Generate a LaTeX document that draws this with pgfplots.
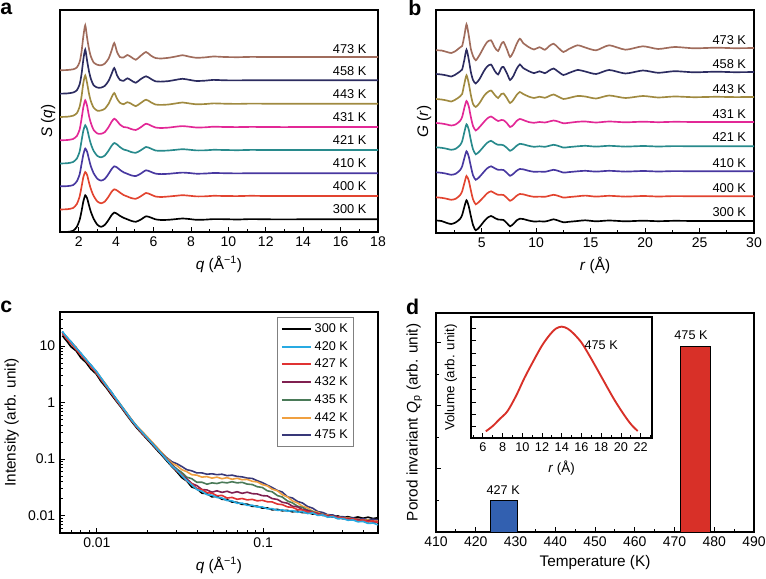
\documentclass[border=0pt]{standalone}
\usepackage{fontspec}
\setmainfont{Liberation Sans}
\usepackage{pgfplots}
\usepackage{pgfplotstable}
\pgfplotsset{compat=1.18}

\definecolor{cA300}{RGB}{0,0,0}
\definecolor{cA400}{RGB}{226,68,48}
\definecolor{cA410}{RGB}{72,56,160}
\definecolor{cA421}{RGB}{40,138,140}
\definecolor{cA431}{RGB}{226,40,150}
\definecolor{cA443}{RGB}{160,138,64}
\definecolor{cA458}{RGB}{44,44,96}
\definecolor{cA473}{RGB}{160,108,92}
\definecolor{cC420}{RGB}{40,170,226}
\definecolor{cC427}{RGB}{224,50,50}
\definecolor{cC432}{RGB}{128,32,80}
\definecolor{cC435}{RGB}{74,122,88}
\definecolor{cC442}{RGB}{240,160,64}
\definecolor{cC475}{RGB}{56,56,120}
\definecolor{barBlue}{RGB}{50,96,176}
\definecolor{barRed}{RGB}{216,48,40}

\pgfplotstableread{
q t300 t400 t410 t421 t431 t443 t458 t473
1.0 -12.7 -13.5 -13 -13.5 -13.3 -13.3 -13.4 -13.3
1.4 -12.6 -13.2 -12.8 -13.2 -13.0 -13.0 -13.1 -13.0
1.7 -11.5 -12.0 -11.8 -12.0 -12.0 -12.0 -12.2 -12.3
1.9 -7.5 -8.0 -8.0 -8.5 -9.0 -9.5 -10 -10.5
2.05 -0.5 -0.5 -1.0 -1.5 -2.5 -3 -4 -5
2.15 8 9 9 9 8 7 6 5
2.25 18 19 19 19.5 20 21 21 21
2.35 24 24 24.7 24.7 26.7 28.3 30.7 31.7
2.45 21 21 21.5 21 21 20.5 19.5 19
2.55 14 13.5 14 13 11 10 9 8
2.65 7.5 7 7 6 4 2.5 1.5 0.5
2.8 0.5 0 0 -1 -3 -4 -5 -5.5
3.0 -5.5 -5.5 -5.5 -6 -6.5 -7 -7.3 -7.8
3.2 -7.5 -7.3 -7.3 -7.3 -6.8 -6.7 -7.3 -8.3
3.4 -5.5 -5.5 -5.5 -5.5 -5 -5 -5.5 -6.5
3.6 -0.5 -0.5 -0.5 -0.5 0 0 -0.5 -1.5
3.75 4 4 4 4 5 6 6 6
3.9 6.7 6.7 7 7 8.3 10.7 12.3 14
4.05 5.5 5.5 5.8 5.5 6 5 5 5
4.2 3.5 3.5 3.5 3 2.5 1 0.5 0
4.4 1.5 1.0 1.0 0.5 0 -0.5 -0.5 -0.5
4.6 0 -0.5 -0.5 -0.5 -0.5 1.5 2 2
4.8 -1.5 -2 -2 -2 -2 0 0 0
5.05 -2.5 -2.8 -2.8 -2.8 -3 -2.5 -2.5 -2.8
5.3 -0.5 -0.5 -0.5 -0.5 -0.5 0.5 1 1
5.6 3 3 3 3 3.3 4 4 5
5.85 1.8 1.5 1.5 1.5 1.5 1.5 1.5 1.5
6.1 0 -0.5 -0.3 -0.5 -0.5 -0.8 -1 -1
6.4 -0.7 -1 -0.8 -0.8 -1 -1.2 -1.3 -1.5
6.8 -0.5 -0.5 -0.5 -0.5 -0.6 -0.8 -0.8 -0.8
7.2 0.2 0.2 0.2 0.2 0.3 0.3 0.5 0.5
7.55 0.8 0.8 0.7 0.8 0.9 1.2 1.5 1.8
7.9 0.3 0.3 0.3 0.3 0.3 0.3 0.5 0.4
8.3 -0.5 -0.4 -0.4 -0.4 -0.5 -0.6 -0.7 -0.8
8.8 -0.3 -0.3 -0.2 -0.3 -0.3 -0.3 -0.3 -0.3
9.2 0.2 0.2 0.3 0.2 0.3 0.3 0.4 0.5
9.8 0.1 0 0.1 0 0 0 0 0
10.5 -0.2 -0.1 -0.1 -0.2 -0.1 -0.2 -0.1 -0.2
11.2 0.2 0.2 0.1 0.1 0.1 0.1 0.1 0.1
12 0 0 0 0 0 0 0 0
13 -0.1 0 0 0 -0.1 0 0 0
14 0 0 0 0 0 0 0 0
15 0 0 0 0 0 0 0 0
16 0 0 0 0 0 0 0 0
17 0 0 0 0 0 0 0 0
18 0 0 0 0 0 0 0 0
}\tabA

\pgfplotstableread{
r t300 t400 t410 t421 t431 t443 t458 t473
0.8 0.5 -1 -1 -1 -1 -2 -2 -2.3
1.3 0 -1.5 -1.5 -1.5 -1.5 -2.5 -2.5 -2.5
1.8 -2 -2.5 -2.5 -2.5 -2.5 -3.5 -3.5 -4
2.2 -3 -3.5 -3.5 -3.5 -3.5 -4.5 -4.5 -5
2.6 -1.5 -2.5 -2.5 -2.5 -2.5 -2.5 -2.5 -3
3.0 2 1 1 1 1 0.5 0.5 0.5
3.2 6 5 5 5 5 3 2.5 2
3.4 14 13 13 14 14 13 12 12
3.6 20.7 20.3 20 22 21 21.7 22.3 23.7
3.8 15 16 15 17 16 14 13 13
4.0 5 6 5 6 5 2 0 -1
4.2 -4 -3 -4 -3 -4 -7 -8 -8
4.45 -9.3 -8 -8.5 -8 -8.5 -10 -11.5 -12.3
4.8 -6 -5 -5.5 -5 -5 -6 -7 -7
5.2 -0.5 -0.5 -0.5 0 0 1 1 1
5.5 3 3 3 3.5 3.5 4.5 5.5 6
5.85 5 5 5 5.5 5.5 6.5 7.5 7.7
6.2 3 3 3 3 3 2 1 0.5
6.5 1.5 1.5 1.5 1.5 1 -1 -2.5 -3
6.8 1.3 1.5 1.5 1.5 2 3 4 4
7.0 1 1.3 1.3 1 1.8 3.5 5 6
7.3 -2 -1.5 -1.5 -1.5 -1 -1 -1 -1
7.6 -5.3 -4.5 -4.5 -4.5 -5 -6 -8 -9
7.9 -3 -2.5 -2.5 -2.5 -3 -3 -4 -4
8.2 0.5 0.5 0.5 0.5 1 2 3 4
8.5 2.3 2.3 2.3 2.5 3 5 7.5 9.3
8.8 2 2 2 2 2 3 4 5
9.3 0.5 0.5 0.5 0.5 0 0.5 1 1
9.8 -0.5 -0.5 -0.5 -0.5 -0.8 -1 -1.2 -1.5
10.3 -0.3 -0.3 -0.3 0 0 0.3 0.7 0.8
10.8 -0.5 -0.5 -0.5 -0.5 -0.5 -0.8 -1.2 -1.8
11.2 0.5 0.5 0.5 0.5 0.5 1 1.5 2
11.6 1.7 1.5 1.5 1.5 1.5 2.5 3.5 4.3
12.0 0.5 0.5 0.5 0.5 0.5 0.5 0.5 0.5
12.5 -1.3 -1.3 -1.3 -1.3 -1.3 -2 -3 -4
13.0 -0.8 -0.8 -0.8 -0.8 -0.8 -1 -1 -1
13.8 0 0 0 0 0.2 1 2 2.7
14.5 0.7 0.7 0.5 0.5 0.5 0.5 0.5 0.5
15.5 -0.3 -0.3 -0.3 -0.3 -0.5 -1.5 -2 -2.3
16.7 0.5 0.5 0.5 0.5 0.5 1.5 2 2.7
18.2 -0.3 -0.3 -0.3 -0.3 -0.3 -1 -1.5 -1.7
19.8 0.3 0.3 0.3 0.3 0.3 1 1.5 1.7
21.2 -0.2 -0.2 -0.2 -0.2 -0.2 -0.5 -0.8 -1
22.7 0.2 0.2 0.2 0.2 0.2 0.5 0.8 1
24.5 0 0 0 0 0 -0.2 -0.3 -0.3
26.5 0 0 0 0 0 0.2 0.3 0.3
28.2 0 0 0 0 0 -0.1 -0.2 -0.2
30 0 0 0 0 0 0 0 0
}\tabB

\pgfplotstableread{
q t300 t420 t427 t432 t435 t442 t475
0.0062 15.2 18.0 17.3 16.6 17.5 16.8 17.9
0.0066 12.1 14.3 13.2 14.0 13.4 14.5 13.6
0.007 9.6 11.8 11.0 11.6 10.9 11.4 11.9
0.0075 8.2 9.2 8.6 9.3 8.8 9.5 8.7
0.008 6.2 7.5 7.0 7.3 7.2 7.0 7.4
0.0086 5.1 5.8 5.5 5.7 5.4 5.9 5.6
0.0092 3.9 4.6 4.3 4.5 4.5 4.3 4.6
0.0099 3.2 3.6 3.4 3.5 3.3 3.6 3.5
0.0106 2.35 2.72 2.55 2.65 2.6 2.7 2.58
0.0114 1.82 2.0 1.93 1.98 1.9 2.05 1.96
0.0122 1.38 1.54 1.46 1.5 1.52 1.48 1.55
0.0131 1.05 1.15 1.1 1.13 1.1 1.16 1.12
0.014 0.82 0.88 0.85 0.87 0.86 0.89 0.86
0.015 0.62 0.67 0.65 0.66 0.64 0.68 0.66
0.0161 0.47 0.5 0.49 0.5 0.49 0.51 0.5
0.0173 0.36 0.385 0.375 0.38 0.38 0.39 0.38
0.0185 0.29 0.31 0.3 0.305 0.3 0.32 0.31
0.0199 0.23 0.245 0.24 0.24 0.24 0.255 0.245
0.0213 0.185 0.196 0.193 0.195 0.194 0.205 0.2
0.0229 0.146 0.155 0.153 0.155 0.154 0.163 0.16
0.0245 0.118 0.124 0.123 0.124 0.125 0.131 0.13
0.0263 0.093 0.097 0.098 0.099 0.1 0.104 0.106
0.0282 0.074 0.076 0.077 0.078 0.08 0.085 0.09
0.0302 0.060 0.064 0.062 0.065 0.067 0.077 0.083
0.0324 0.047 0.051 0.053 0.052 0.058 0.065 0.074
0.0347 0.041 0.042 0.041 0.045 0.048 0.060 0.065
0.0372 0.032 0.035 0.037 0.037 0.045 0.053 0.062
0.0399 0.030 0.029 0.030 0.034 0.039 0.052 0.057
0.0428 0.025 0.027 0.029 0.029 0.039 0.048 0.057
0.0459 0.0245 0.0235 0.0255 0.0285 0.036 0.049 0.054
0.0492 0.0215 0.023 0.025 0.026 0.038 0.046 0.055
0.0527 0.022 0.021 0.0225 0.0275 0.037 0.048 0.053
0.0565 0.0195 0.0205 0.0228 0.0258 0.039 0.045 0.054
0.0606 0.0192 0.0185 0.0205 0.027 0.038 0.047 0.051
0.065 0.0174 0.0183 0.021 0.0252 0.0398 0.044 0.052
0.0697 0.0172 0.0166 0.0195 0.0265 0.038 0.0458 0.0495
0.0747 0.0158 0.0167 0.0201 0.0248 0.0388 0.0432 0.0485
0.0801 0.016 0.0152 0.019 0.026 0.0362 0.0438 0.0462
0.0859 0.0146 0.0153 0.0194 0.0245 0.0355 0.0405 0.0455
0.0921 0.0147 0.0142 0.0183 0.0242 0.0325 0.0395 0.0415
0.0987 0.0136 0.0143 0.0187 0.0226 0.0315 0.0355 0.0385
0.106 0.0137 0.0132 0.0176 0.0223 0.0275 0.0335 0.0345
0.113 0.0127 0.0133 0.0175 0.0201 0.0265 0.0295 0.0315
0.122 0.0129 0.0124 0.016 0.0193 0.0226 0.0275 0.0278
0.13 0.0122 0.0127 0.0157 0.0173 0.0214 0.0235 0.0262
0.14 0.0124 0.012 0.0143 0.0166 0.0182 0.0214 0.0215
0.15 0.0117 0.0123 0.014 0.0147 0.0168 0.0182 0.0205
0.161 0.012 0.0115 0.0128 0.0143 0.0147 0.0168 0.0178
0.172 0.0113 0.0118 0.0126 0.0128 0.014 0.0147 0.0168
0.185 0.0114 0.0109 0.0116 0.0124 0.0125 0.0137 0.0145
0.198 0.0107 0.0112 0.0115 0.0113 0.0119 0.012 0.0136
0.213 0.0109 0.0101 0.0105 0.011 0.0108 0.0115 0.0118
0.228 0.0101 0.0103 0.0105 0.0101 0.0106 0.0104 0.0114
0.244 0.0103 0.0094 0.0097 0.0101 0.0098 0.0103 0.0104
0.262 0.0096 0.0096 0.0098 0.0094 0.0097 0.0095 0.0103
0.281 0.0099 0.0088 0.0091 0.0095 0.0091 0.0096 0.0095
0.301 0.0092 0.0089 0.0092 0.0088 0.0092 0.0089 0.0096
0.323 0.0096 0.0083 0.0086 0.009 0.0086 0.0092 0.009
0.346 0.0091 0.0084 0.0088 0.0085 0.0088 0.0086 0.0092
0.371 0.0095 0.0078 0.0082 0.0086 0.0082 0.0087 0.0086
0.398 0.009 0.0079 0.0084 0.008 0.0084 0.0082 0.0089
0.427 0.0094 0.0073 0.0078 0.0082 0.0078 0.0084 0.0084
0.458 0.0089 0.0074 0.0081 0.0077 0.008 0.0078 0.0087
0.49 0.0092 0.0069 0.0076 0.0079 0.0076 0.0081 0.0083
}\tabC

\pgfplotsset{
  myax/.style={scale only axis, anchor=south west,
    axis line style={line width=0.9pt},
    tick align=inside, xtick pos=bottom, ytick pos=left,
    major tick length=3.5pt, minor tick length=2.2pt,
    every tick/.style={black, line width=0.6pt},
    ticklabel style={font=\fontsize{10.5}{12}\selectfont},
    label style={font=\fontsize{11.5}{13}\selectfont},
    /pgf/number format/assume math mode=true},
  crv/.style={line width=1.25pt, smooth, tension=0.4}
}
\tikzset{lbl/.style={font=\fontsize{9.6}{11}\selectfont, anchor=east},
  plbl/.style={anchor=base west, inner sep=0pt, font=\bfseries\fontsize{16}{17}\selectfont}}

\begin{document}
\begin{tikzpicture}
\useasboundingbox (0,0) rectangle (574.5pt,433.5pt);

% ---------- panel a ----------
\begin{axis}[myax, at={(45pt,259.5pt)}, width=238.5pt, height=166.5pt,
  xmin=1, xmax=18, ymin=0, ymax=222,
  xtick={2,4,...,18}, minor xtick={3,5,...,17}, ytick=\empty,
  xlabel={\textit{q} (Å\textsuperscript{−1})}, ylabel={\textit{S} (\textit{q})}]
\addplot[crv, cA300] table[x=q, y expr=\thisrow{t300}+12.7] {\tabA};
\addplot[crv, cA400] table[x=q, y expr=\thisrow{t400}+36] {\tabA};
\addplot[crv, cA410] table[x=q, y expr=\thisrow{t410}+58.7] {\tabA};
\addplot[crv, cA421] table[x=q, y expr=\thisrow{t421}+82] {\tabA};
\addplot[crv, cA431] table[x=q, y expr=\thisrow{t431}+105] {\tabA};
\addplot[crv, cA443] table[x=q, y expr=\thisrow{t443}+128.3] {\tabA};
\addplot[crv, cA458] table[x=q, y expr=\thisrow{t458}+151.7] {\tabA};
\addplot[crv, cA473] table[x=q, y expr=\thisrow{t473}+175] {\tabA};
\node[lbl] at (axis cs:17.63,22.7) {300 K};
\node[lbl] at (axis cs:17.63,46) {400 K};
\node[lbl] at (axis cs:17.63,69) {410 K};
\node[lbl] at (axis cs:17.63,92.3) {421 K};
\node[lbl] at (axis cs:17.63,115) {431 K};
\node[lbl] at (axis cs:17.63,138.3) {443 K};
\node[lbl] at (axis cs:17.63,160.7) {458 K};
\node[lbl] at (axis cs:17.63,183.3) {473 K};
\end{axis}

% ---------- panel b ----------
\begin{axis}[myax, at={(327pt,258.75pt)}, width=238.5pt, height=167.25pt,
  xmin=0.8, xmax=30, ymin=0, ymax=223,
  xtick={5,10,...,30}, minor xtick={2.5,7.5,...,27.5}, ytick=\empty,
  xlabel={\textit{r} (Å)}, ylabel={\textit{G} (\textit{r})}]
\addplot[crv, cA300] table[x=r, y expr=\thisrow{t300}+12] {\tabB};
\addplot[crv, cA400] table[x=r, y expr=\thisrow{t400}+36.7] {\tabB};
\addplot[crv, cA410] table[x=r, y expr=\thisrow{t410}+61.7] {\tabB};
\addplot[crv, cA421] table[x=r, y expr=\thisrow{t421}+86.7] {\tabB};
\addplot[crv, cA431] table[x=r, y expr=\thisrow{t431}+111] {\tabB};
\addplot[crv, cA443] table[x=r, y expr=\thisrow{t443}+136] {\tabB};
\addplot[crv, cA458] table[x=r, y expr=\thisrow{t458}+161] {\tabB};
\addplot[crv, cA473] table[x=r, y expr=\thisrow{t473}+185] {\tabB};
\node[lbl] at (axis cs:29.7,21) {300 K};
\node[lbl] at (axis cs:29.7,45.3) {400 K};
\node[lbl] at (axis cs:29.7,70.3) {410 K};
\node[lbl] at (axis cs:29.7,96) {421 K};
\node[lbl] at (axis cs:29.7,119.3) {431 K};
\node[lbl] at (axis cs:29.7,144.3) {443 K};
\node[lbl] at (axis cs:29.7,169.3) {458 K};
\node[lbl] at (axis cs:29.7,193.3) {473 K};
\end{axis}

% ---------- panel c ----------
\begin{axis}[myax, at={(45pt,33.75pt)}, width=238.5pt, height=165.75pt,
  xmode=log, ymode=log, xmin=0.006, xmax=0.49, ymin=0.00494, ymax=39.8,
  xtick={0.01,0.1}, xticklabels={0.01,0.1},
  ytick={0.01,0.1,1,10}, yticklabels={0.01,0.1,1,10},
  minor xtick={0.006,0.007,0.008,0.009,0.02,0.03,0.04,0.05,0.06,0.07,0.08,0.09,0.2,0.3,0.4},
  minor ytick={0.005,0.006,0.007,0.008,0.009,0.02,0.03,0.04,0.05,0.06,0.07,0.08,0.09,0.2,0.3,0.4,0.5,0.6,0.7,0.8,0.9,2,3,4,5,6,7,8,9,20,30},
  xlabel={\textit{q} (Å\textsuperscript{−1})}, ylabel={Intensity (arb. unit)},
  legend style={at={(0.925,0.977)}, anchor=north east, draw=gray, line width=0.5pt,
    font=\fontsize{9.5}{11}\selectfont, row sep=1.2pt, inner sep=2.5pt},
  legend cell align=left,
  legend image code/.code={\draw[#1, line width=1.4pt] (0pt,0pt) -- (22pt,0pt);}]
\addlegendimage{black}\addlegendentry{300 K}
\addlegendimage{cC420}\addlegendentry{420 K}
\addlegendimage{cC427}\addlegendentry{427 K}
\addlegendimage{cC432}\addlegendentry{432 K}
\addlegendimage{cC435}\addlegendentry{435 K}
\addlegendimage{cC442}\addlegendentry{442 K}
\addlegendimage{cC475}\addlegendentry{475 K}
\addplot[forget plot, black, line width=1.2pt] table[x=q, y=t300] {\tabC};
\addplot[forget plot, cC475, line width=1.2pt] table[x=q, y=t475] {\tabC};
\addplot[forget plot, cC442, line width=1.2pt] table[x=q, y=t442] {\tabC};
\addplot[forget plot, cC435, line width=1.2pt] table[x=q, y=t435] {\tabC};
\addplot[forget plot, cC432, line width=1.2pt] table[x=q, y=t432] {\tabC};
\addplot[forget plot, cC427, line width=1.2pt] table[x=q, y=t427] {\tabC};
\addplot[forget plot, cC420, line width=1.2pt] table[x=q, y=t420] {\tabC};
\end{axis}

% ---------- panel d ----------
\begin{axis}[myax, at={(327pt,34.5pt)}, width=238.5pt, height=164.25pt,
  xmin=410, xmax=490, ymin=0, ymax=6.94,
  xtick={410,420,...,490}, minor xtick={415,425,...,485},
  ytick={2,4,6}, minor ytick={1,3,5}, yticklabels={},
  xlabel={Temperature (K)}, ylabel={Porod invariant \textit{Q}\textsubscript{p} (arb. unit)}]
\addplot[ybar, bar shift=0pt, bar width=6.8, fill=barBlue, draw=black, line width=0.5pt] coordinates {(427,1.01)};
\addplot[ybar, bar shift=0pt, bar width=7.6, fill=barRed, draw=black, line width=0.5pt] coordinates {(475.3,5.88)};
\node[font=\fontsize{9.5}{11}\selectfont] at (axis cs:426.9,1.33) {427 K};
\node[font=\fontsize{9.5}{11}\selectfont] at (axis cs:474.15,6.24) {475 K};
\end{axis}

% ---------- inset ----------
\begin{axis}[myax, at={(353.25pt,105pt)}, width=135.75pt, height=90.75pt,
  axis background/.style={fill=white},
  xmin=4.8, xmax=23.15, ymin=0, ymax=121.7,
  xtick={6,8,...,22}, minor xtick={5,7,...,23},
  ytick={11.7,24,36.3,48.6,60.9,73.2,85.5,97.8,110.1}, yticklabels={},
  ticklabel style={font=\fontsize{9.5}{11}\selectfont},
  label style={font=\fontsize{10}{12}\selectfont},
  xlabel={\textit{r} (Å)}, ylabel={Volume (arb. unit)}]
\addplot[barRed, line width=1.4pt, smooth] coordinates {
(6.3,6.7) (7.0,12) (7.7,19) (8.5,27) (9.4,43) (10.2,60) (11.1,77) (12.0,93)
(12.8,104) (13.4,110) (14.0,112) (14.6,110) (15.2,105) (16.0,96) (16.8,83)
(17.6,69) (18.5,53) (19.3,39) (20.2,25) (21.0,14) (21.7,7)};
\node[font=\fontsize{9.5}{11}\selectfont] at (axis cs:18.0,93) {475 K};
\end{axis}

% ---------- panel letters ----------
\node[plbl] at (0pt,422.25pt) {a};
\node[plbl] at (306pt,421.5pt) {b};
\node[plbl] at (0pt,198.75pt) {c};
\node[plbl] at (304.3pt,197.25pt) {d};
\end{tikzpicture}
\end{document}
